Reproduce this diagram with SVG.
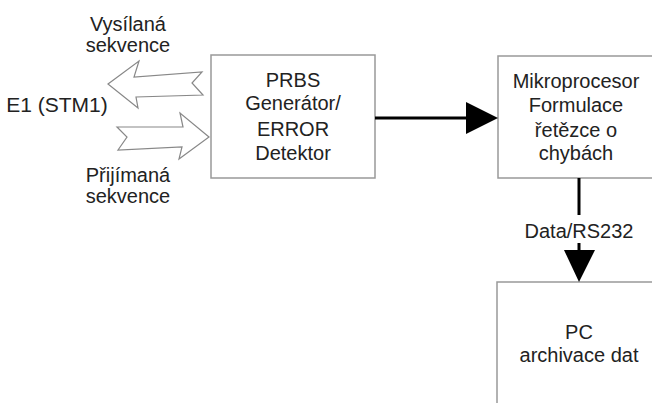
<svg xmlns="http://www.w3.org/2000/svg" width="652" height="403" viewBox="0 0 652 403">
<style>
text{font-family:"Liberation Sans",Arial,sans-serif;font-size:20px;fill:#222;text-anchor:middle}
.box{fill:#fff;stroke:#999;stroke-width:1.5}
.hollow{fill:#fff;stroke:#888;stroke-width:1.2;stroke-linejoin:miter}
.conn{stroke:#000;stroke-width:3;fill:none}
.head{fill:#000}
</style>
<rect width="652" height="403" fill="#fff"/>
<g id="labels">
<text x="128" y="31">Vysílaná</text>
<text x="128" y="52">sekvence</text>
<text x="57" y="112" style="font-size:21px">E1 (STM1)</text>
<text x="128" y="182">Přijímaná</text>
<text x="128" y="203">sekvence</text>
</g>
<g id="prbs">
<rect class="box" x="211" y="55" width="164" height="123"/>
<text x="293" y="87">PRBS</text>
<text x="293" y="110">Generátor/</text>
<text x="293" y="136">ERROR</text>
<text x="293" y="160">Detektor</text>
</g>
<g id="mikroprocesor">
<rect class="box" x="498" y="56" width="170" height="122"/>
<text x="576" y="88">Mikroprocesor</text>
<text x="576" y="112">Formulace</text>
<text x="576" y="137">řetězce o</text>
<text x="576" y="160">chybách</text>
</g>
<g id="pc">
<rect class="box" x="497" y="282" width="170" height="140"/>
<text x="579" y="339">PC</text>
<text x="579" y="362">archivace dat</text>
</g>
<g id="connectors">
<polygon class="hollow" points="108,84 139,61 134,77 202,72 192,83 203,95 136,97 138,108"/>
<polygon class="hollow" points="117,127 183,127 180,113 209,137 179,159 182,147 118,150 127,137"/>
<line class="conn" x1="375" y1="118" x2="468" y2="118"/>
<polygon class="head" points="466,102 498,118 466,134"/>
<line class="conn" x1="579" y1="178" x2="579" y2="215"/>
<line class="conn" x1="579" y1="243" x2="579" y2="252"/>
<polygon class="head" points="564,250 595,250 579,282"/>
<text x="579" y="238">Data/RS232</text>
</g>
</svg>
